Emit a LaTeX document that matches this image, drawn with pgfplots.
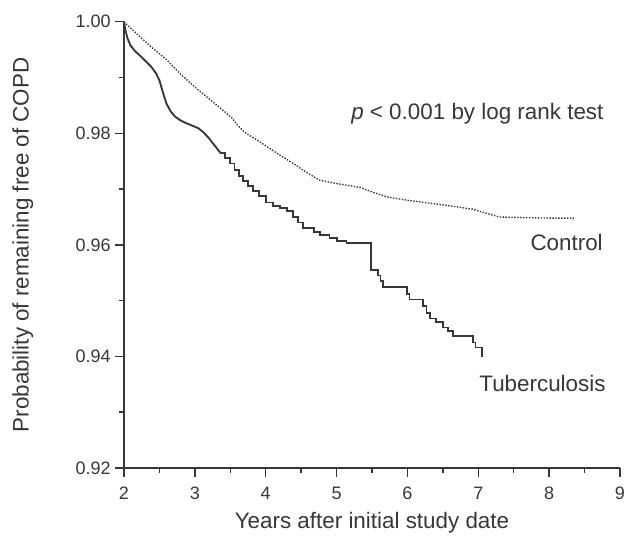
\documentclass[border=0pt]{standalone}
\usepackage{fontspec}
\setmainfont{Liberation Sans}
\usepackage{pgfplots}
\pgfplotsset{compat=1.18}
\definecolor{ink}{RGB}{55,55,55}

\begin{document}
\begin{tikzpicture}
\useasboundingbox (-93pt,-57pt) rectangle (377.25pt,351pt);
\begin{axis}[
    scale only axis,
    width=372pt, height=334.7pt,
    xmin=2, xmax=9, ymin=0.92, ymax=1.00,
    axis lines=left,
    axis line style={-, ink, line width=1.1pt},
    tick align=outside,
    xtick={2,...,9},
    ytick={0.92,0.94,0.96,0.98,1.00},
    minor tick num=1,
    major tick length=6.5pt, minor tick length=3.5pt,
    tick style={ink, line width=1.1pt},
    /pgf/number format/assume math mode=true,
    tick label style={font=\fontsize{13.5}{15}\selectfont, text=ink},
    x tick label style={yshift=-4pt},
    y tick label style={/pgf/number format/fixed,
        /pgf/number format/fixed zerofill, /pgf/number format/precision=2},
    every axis x label/.style={at={(axis description cs:0.5,-0.123)}, anchor=center,
        font=\fontsize{16.8}{19}\selectfont, text=ink},
    every axis y label/.style={at={(axis description cs:-0.204,0.5)}, anchor=center, rotate=90,
        font=\fontsize{16.8}{19}\selectfont, text=ink},
    xlabel={Years after initial study date},
    ylabel={Probability of remaining free of COPD},
    clip=false,
]
% Tuberculosis: early part (many small events, looks smooth)
\addplot[ink, line width=1.4pt, mark=none] coordinates {
    (2.00,1.0000) (2.02,0.9985) (2.05,0.9970) (2.09,0.9958) (2.15,0.9948)
    (2.22,0.9940) (2.30,0.9930) (2.38,0.9920) (2.45,0.9908) (2.50,0.9895)
    (2.55,0.9873) (2.60,0.9853) (2.66,0.9839) (2.72,0.9830) (2.80,0.9823)
    (2.88,0.9818) (2.96,0.9814) (3.05,0.9809) (3.12,0.9802) (3.20,0.9791)
    (3.28,0.9778) (3.36,0.9765)
};
% Tuberculosis: later part (visible Kaplan-Meier steps)
\addplot[ink, line width=1.4pt, const plot, mark=none] coordinates {
    (3.36,0.9765) (3.43,0.9756) (3.50,0.9746) (3.56,0.9735) (3.62,0.9724)
    (3.68,0.9715) (3.75,0.9706) (3.82,0.9697) (3.90,0.9687) (4.00,0.9676)
    (4.10,0.9670) (4.20,0.9666) (4.30,0.9660) (4.38,0.9650) (4.45,0.9640)
    (4.53,0.9630) (4.68,0.9623) (4.77,0.9617) (4.90,0.9612) (5.00,0.9607)
    (5.14,0.9603) (5.48,0.9555) (5.58,0.9545) (5.62,0.9535) (5.65,0.9524)
    (5.99,0.9512) (6.03,0.9502) (6.22,0.9490) (6.27,0.9478) (6.32,0.9468)
    (6.40,0.9462) (6.50,0.9452) (6.57,0.9445) (6.64,0.9436) (6.92,0.9425)
    (6.96,0.9416) (7.05,0.9399)
};
% Control (dotted)
\addplot[ink, line width=1pt, dash pattern=on 1.1pt off 1.1pt, mark=none] coordinates {
    (2.00,1.0000) (2.20,0.9976) (2.40,0.9953) (2.60,0.9932) (2.80,0.9906)
    (3.00,0.9883) (3.20,0.9862) (3.40,0.9841) (3.52,0.9828) (3.60,0.9815)
    (3.70,0.9802) (3.90,0.9786) (4.15,0.9765) (4.40,0.9745) (4.60,0.9728)
    (4.76,0.9716) (5.00,0.9710) (5.33,0.9703) (5.50,0.9695) (5.71,0.9686)
    (6.00,0.9680) (6.36,0.9674) (6.60,0.9670) (6.92,0.9664) (7.10,0.9657)
    (7.30,0.9650) (7.60,0.9649) (8.00,0.9648) (8.34,0.9648) (8.34,0.9643)
};
\node[anchor=east, text=ink, font=\fontsize{16.8}{19}\selectfont, inner sep=0pt]
    at (axis cs:8.77,0.9836) {\textit{p} < 0.001 by log rank test};
\node[anchor=east, text=ink, font=\fontsize{16.8}{19}\selectfont, inner sep=0pt]
    at (axis cs:8.76,0.9605) {Control};
\node[anchor=east, text=ink, font=\fontsize{16.8}{19}\selectfont, inner sep=0pt]
    at (axis cs:8.80,0.9352) {Tuberculosis};
\end{axis}
\end{tikzpicture}
\end{document}
